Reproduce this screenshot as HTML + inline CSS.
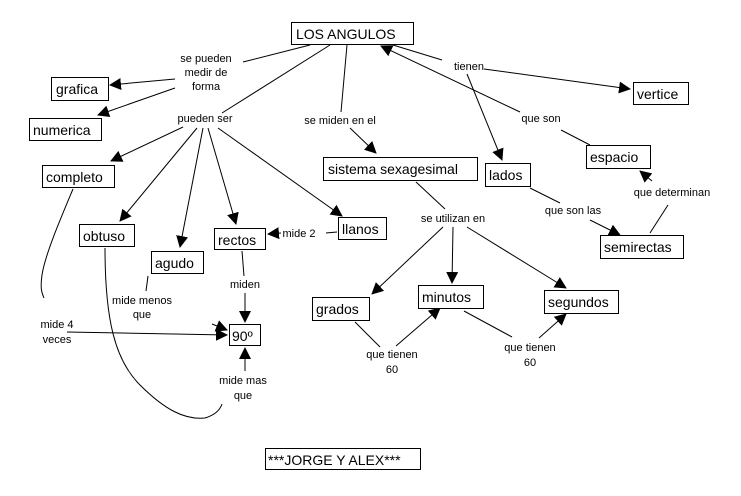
<!DOCTYPE html>
<html><head><meta charset="utf-8"><style>
html,body{margin:0;padding:0;background:#fff;}
svg{display:block;}
.b{fill:#fff;stroke:#000;stroke-width:1;}
.t{font-family:"Liberation Sans",sans-serif;font-size:14px;fill:#000;}
.l{font-family:"Liberation Sans",sans-serif;font-size:11px;fill:#000;text-anchor:middle;}
.c{stroke:#000;stroke-width:1;fill:none;}
</style></head><body>
<svg width="741" height="496" viewBox="0 0 741 496" xmlns="http://www.w3.org/2000/svg">
<defs><marker id="a" markerWidth="12" markerHeight="12" refX="11" refY="6" orient="auto" markerUnits="userSpaceOnUse"><path d="M0,0 L12,6 L0,12 Z" fill="#000"/></marker></defs>

<!-- connectors -->
<line class="c" x1="310" y1="45" x2="243" y2="62"/>
<line class="c" x1="175" y1="79" x2="110" y2="85" marker-end="url(#a)"/>
<line class="c" x1="175" y1="88" x2="98" y2="115" marker-end="url(#a)"/>
<line class="c" x1="330" y1="45" x2="222" y2="113"/>
<line class="c" x1="183" y1="127" x2="111" y2="161" marker-end="url(#a)"/>
<line class="c" x1="197" y1="128" x2="120" y2="221" marker-end="url(#a)"/>
<line class="c" x1="203" y1="128" x2="180" y2="247" marker-end="url(#a)"/>
<line class="c" x1="208" y1="128" x2="236" y2="224" marker-end="url(#a)"/>
<line class="c" x1="218" y1="128" x2="342" y2="216" marker-end="url(#a)"/>
<line class="c" x1="337" y1="232" x2="326" y2="233"/>
<line class="c" x1="281" y1="233" x2="268" y2="234" marker-end="url(#a)"/>
<line class="c" x1="242" y1="251" x2="244" y2="276"/>
<line class="c" x1="245" y1="293" x2="245" y2="322" marker-end="url(#a)"/>
<line class="c" x1="148" y1="276" x2="146" y2="291"/>
<line class="c" x1="212" y1="324" x2="227" y2="330" marker-end="url(#a)"/>
<path class="c" d="M73,189 C60,220 45,255 42,275 C40,290 42,293 44,298"/>
<line class="c" x1="67" y1="332" x2="227" y2="335" marker-end="url(#a)"/>
<path class="c" d="M105,248 C105,320 115,360 140,385 C165,410 185,420 205,418 C215,415 220,410 222,404"/>
<line class="c" x1="245" y1="371" x2="245" y2="348" marker-end="url(#a)"/>
<line class="c" x1="347" y1="45" x2="341" y2="112"/>
<line class="c" x1="350" y1="128" x2="376" y2="153" marker-end="url(#a)"/>
<line class="c" x1="416" y1="182" x2="445" y2="209"/>
<line class="c" x1="443" y1="227" x2="372" y2="294" marker-end="url(#a)"/>
<line class="c" x1="453" y1="227" x2="452" y2="283" marker-end="url(#a)"/>
<line class="c" x1="467" y1="227" x2="566" y2="288" marker-end="url(#a)"/>
<line class="c" x1="355" y1="322" x2="380" y2="347"/>
<line class="c" x1="396" y1="346" x2="440" y2="308" marker-end="url(#a)"/>
<line class="c" x1="464" y1="311" x2="512" y2="337"/>
<line class="c" x1="539" y1="338" x2="566" y2="314" marker-end="url(#a)"/>
<line class="c" x1="393" y1="45" x2="442" y2="60"/>
<line class="c" x1="484" y1="69" x2="630" y2="89" marker-end="url(#a)"/>
<line class="c" x1="467" y1="74" x2="502" y2="160" marker-end="url(#a)"/>
<line class="c" x1="520" y1="112" x2="381" y2="46" marker-end="url(#a)"/>
<line class="c" x1="561" y1="130" x2="590" y2="145"/>
<line class="c" x1="530" y1="188" x2="560" y2="203"/>
<line class="c" x1="590" y1="220" x2="620" y2="235" marker-end="url(#a)"/>
<line class="c" x1="650" y1="233" x2="668" y2="205"/>
<line class="c" x1="652" y1="181" x2="640" y2="171" marker-end="url(#a)"/>

<!-- link labels -->
<text class="l" x="206" y="62">se pueden</text>
<text class="l" x="206" y="76">medir de</text>
<text class="l" x="206" y="90">forma</text>
<text class="l" x="205" y="122">pueden ser</text>
<text class="l" x="340" y="124">se miden en el</text>
<text class="l" x="469" y="70">tienen</text>
<text class="l" x="541" y="122">que son</text>
<text class="l" x="573" y="214">que son las</text>
<text class="l" x="672" y="196">que determinan</text>
<text class="l" x="453" y="222">se utilizan en</text>
<text class="l" x="299" y="237">mide 2</text>
<text class="l" x="245" y="288">miden</text>
<text class="l" x="142" y="304">mide menos</text>
<text class="l" x="142" y="318">que</text>
<text class="l" x="57" y="328">mide 4</text>
<text class="l" x="57" y="343">veces</text>
<text class="l" x="243" y="384">mide mas</text>
<text class="l" x="243" y="399">que</text>
<text class="l" x="392" y="358">que tienen</text>
<text class="l" x="392" y="373">60</text>
<text class="l" x="530" y="351">que tienen</text>
<text class="l" x="530" y="366">60</text>

<!-- concept boxes -->
<rect class="b" x="291.5" y="22.5" width="122" height="22"/><text class="t" x="296" y="39">LOS ANGULOS</text>
<rect class="b" x="51.5" y="77.5" width="57" height="23"/><text class="t" x="56" y="94">grafica</text>
<rect class="b" x="29.5" y="118.5" width="72" height="22"/><text class="t" x="33" y="135">numerica</text>
<rect class="b" x="42.5" y="165.5" width="72" height="22"/><text class="t" x="46" y="182">completo</text>
<rect class="b" x="79.5" y="224.5" width="55" height="22"/><text class="t" x="83" y="241">obtuso</text>
<rect class="b" x="151.5" y="251.5" width="52" height="22"/><text class="t" x="155" y="268">agudo</text>
<rect class="b" x="214.5" y="228.5" width="51" height="21"/><text class="t" x="218" y="245">rectos</text>
<rect class="b" x="338.5" y="217.5" width="48" height="22"/><text class="t" x="342" y="234">llanos</text>
<rect class="b" x="229.5" y="324.5" width="31" height="21"/><text class="t" x="232" y="341">90º</text>
<rect class="b" x="323.5" y="157.5" width="154" height="23"/><text class="t" x="328" y="174">sistema sexagesimal</text>
<rect class="b" x="485.5" y="163.5" width="45" height="23"/><text class="t" x="489" y="180">lados</text>
<rect class="b" x="586.5" y="145.5" width="64" height="23"/><text class="t" x="590" y="162">espacio</text>
<rect class="b" x="633.5" y="82.5" width="55" height="22"/><text class="t" x="637" y="99">vertice</text>
<rect class="b" x="600.5" y="235.5" width="83" height="23"/><text class="t" x="604" y="252">semirectas</text>
<rect class="b" x="312.5" y="297.5" width="57" height="23"/><text class="t" x="316" y="314">grados</text>
<rect class="b" x="418.5" y="285.5" width="65" height="23"/><text class="t" x="422" y="302">minutos</text>
<rect class="b" x="544.5" y="290.5" width="74" height="23"/><text class="t" x="548" y="307">segundos</text>
<rect class="b" x="265.5" y="448.5" width="155" height="21"/><text class="t" x="268" y="465">***JORGE Y ALEX***</text>
</svg>
</body></html>
